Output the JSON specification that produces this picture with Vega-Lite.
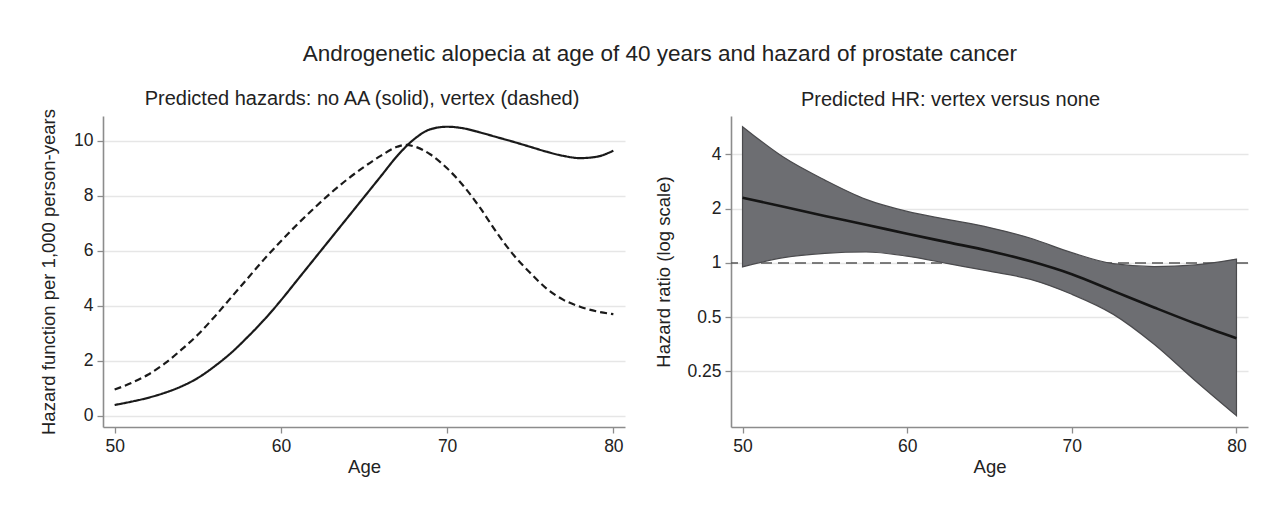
{
  "$schema": "https://vega.github.io/schema/vega-lite/v6.json",
  "background": "white",
  "padding": {"left": 39, "top": 43, "right": 20, "bottom": 10},
  "spacing": 29,
  "title": {
    "text": "Androgenetic alopecia at age of 40 years and hazard of prostate cancer",
    "fontSize": 22.5,
    "font": "Liberation Sans",
    "fontWeight": "normal",
    "color": "#222222",
    "anchor": "middle",
    "baseline": "top",
    "offset": 23,
    "dx": 16
  },
  "config": {
    "view": {"stroke": null},
    "font": "Liberation Sans",
    "axis": {
      "domainColor": "#8c8c8c",
      "domainWidth": 1.6,
      "tickColor": "#8c8c8c",
      "tickWidth": 1.3,
      "tickSize": 6,
      "labelFont": "Liberation Sans",
      "labelFontSize": 17.5,
      "labelColor": "#222222",
      "labelPadding": 4,
      "titleFont": "Liberation Sans",
      "titleFontSize": 18.5,
      "titleFontWeight": "normal",
      "titleColor": "#222222",
      "gridColor": "#e6e6e6",
      "gridWidth": 1.3
    },
    "title": {
      "font": "Liberation Sans",
      "fontSize": 20,
      "fontWeight": "normal",
      "color": "#222222"
    }
  },
  "hconcat": [
    {
      "width": 522,
      "height": 311,
      "title": {"text": "Predicted hazards: no AA (solid), vertex (dashed)", "offset": 0, "dx": -2},
      "data": {
        "values": [
          {"age": 50, "hazard": 0.40, "group": "No AA"},
          {"age": 51, "hazard": 0.52, "group": "No AA"},
          {"age": 52, "hazard": 0.66, "group": "No AA"},
          {"age": 53, "hazard": 0.84, "group": "No AA"},
          {"age": 54, "hazard": 1.07, "group": "No AA"},
          {"age": 55, "hazard": 1.38, "group": "No AA"},
          {"age": 56, "hazard": 1.80, "group": "No AA"},
          {"age": 57, "hazard": 2.29, "group": "No AA"},
          {"age": 58, "hazard": 2.87, "group": "No AA"},
          {"age": 59, "hazard": 3.5, "group": "No AA"},
          {"age": 60, "hazard": 4.2, "group": "No AA"},
          {"age": 61, "hazard": 4.95, "group": "No AA"},
          {"age": 62, "hazard": 5.7, "group": "No AA"},
          {"age": 63, "hazard": 6.45, "group": "No AA"},
          {"age": 64, "hazard": 7.2, "group": "No AA"},
          {"age": 65, "hazard": 7.95, "group": "No AA"},
          {"age": 66, "hazard": 8.7, "group": "No AA"},
          {"age": 67, "hazard": 9.45, "group": "No AA"},
          {"age": 68, "hazard": 10.05, "group": "No AA"},
          {"age": 69, "hazard": 10.42, "group": "No AA"},
          {"age": 70, "hazard": 10.51, "group": "No AA"},
          {"age": 71, "hazard": 10.45, "group": "No AA"},
          {"age": 72, "hazard": 10.3, "group": "No AA"},
          {"age": 73, "hazard": 10.13, "group": "No AA"},
          {"age": 74, "hazard": 9.96, "group": "No AA"},
          {"age": 75, "hazard": 9.78, "group": "No AA"},
          {"age": 76, "hazard": 9.6, "group": "No AA"},
          {"age": 77, "hazard": 9.45, "group": "No AA"},
          {"age": 78, "hazard": 9.37, "group": "No AA"},
          {"age": 79, "hazard": 9.42, "group": "No AA"},
          {"age": 80, "hazard": 9.64, "group": "No AA"},
          {"age": 50, "hazard": 0.96, "group": "Vertex"},
          {"age": 51, "hazard": 1.2, "group": "Vertex"},
          {"age": 52, "hazard": 1.5, "group": "Vertex"},
          {"age": 53, "hazard": 1.9, "group": "Vertex"},
          {"age": 54, "hazard": 2.4, "group": "Vertex"},
          {"age": 55, "hazard": 2.95, "group": "Vertex"},
          {"age": 56, "hazard": 3.6, "group": "Vertex"},
          {"age": 57, "hazard": 4.3, "group": "Vertex"},
          {"age": 58, "hazard": 5.0, "group": "Vertex"},
          {"age": 59, "hazard": 5.7, "group": "Vertex"},
          {"age": 60, "hazard": 6.35, "group": "Vertex"},
          {"age": 61, "hazard": 6.97, "group": "Vertex"},
          {"age": 62, "hazard": 7.55, "group": "Vertex"},
          {"age": 63, "hazard": 8.1, "group": "Vertex"},
          {"age": 64, "hazard": 8.6, "group": "Vertex"},
          {"age": 65, "hazard": 9.05, "group": "Vertex"},
          {"age": 66, "hazard": 9.45, "group": "Vertex"},
          {"age": 67, "hazard": 9.78, "group": "Vertex"},
          {"age": 67.5, "hazard": 9.85, "group": "Vertex"},
          {"age": 68, "hazard": 9.8, "group": "Vertex"},
          {"age": 69, "hazard": 9.5, "group": "Vertex"},
          {"age": 70, "hazard": 9.0, "group": "Vertex"},
          {"age": 71, "hazard": 8.35, "group": "Vertex"},
          {"age": 72, "hazard": 7.55, "group": "Vertex"},
          {"age": 73, "hazard": 6.65, "group": "Vertex"},
          {"age": 74, "hazard": 5.85, "group": "Vertex"},
          {"age": 75, "hazard": 5.2, "group": "Vertex"},
          {"age": 76, "hazard": 4.62, "group": "Vertex"},
          {"age": 77, "hazard": 4.22, "group": "Vertex"},
          {"age": 78, "hazard": 3.97, "group": "Vertex"},
          {"age": 79, "hazard": 3.8, "group": "Vertex"},
          {"age": 80, "hazard": 3.7, "group": "Vertex"}
        ]
      },
      "mark": {"type": "line", "interpolate": "monotone", "color": "#1a1a1a", "strokeWidth": 2.2},
      "encoding": {
        "x": {
          "field": "age", "type": "quantitative",
          "scale": {"domain": [49.3, 80.7], "nice": false, "zero": false},
          "axis": {"values": [50, 60, 70, 80], "title": "Age", "grid": false, "titlePadding": 3}
        },
        "y": {
          "field": "hazard", "type": "quantitative",
          "scale": {"domain": [-0.4, 10.9], "nice": false, "zero": false},
          "axis": {"values": [0, 2, 4, 6, 8, 10], "title": "Hazard function per 1,000 person-years", "grid": true, "minExtent": 30, "maxExtent": 30, "titlePadding": 15}
        },
        "strokeDash": {
          "field": "group", "type": "nominal",
          "scale": {"domain": ["No AA", "Vertex"], "range": [[1, 0], [7, 4]]},
          "legend": null
        }
      }
    },
    {
      "width": 517,
      "height": 311,
      "title": {"text": "Predicted HR: vertex versus none", "offset": 6, "dx": -39},
      "data": {
        "values": [
          {"age": 50, "hr": 2.30, "lo": 0.95, "hi": 5.70},
          {"age": 52.5, "hr": 2.05, "lo": 1.07, "hi": 3.85},
          {"age": 55, "hr": 1.82, "lo": 1.13, "hi": 2.88},
          {"age": 57.5, "hr": 1.63, "lo": 1.15, "hi": 2.25},
          {"age": 60, "hr": 1.45, "lo": 1.09, "hi": 1.93},
          {"age": 62.5, "hr": 1.30, "lo": 0.99, "hi": 1.74},
          {"age": 65, "hr": 1.165, "lo": 0.90, "hi": 1.57},
          {"age": 67.5, "hr": 1.02, "lo": 0.81, "hi": 1.37},
          {"age": 70, "hr": 0.865, "lo": 0.67, "hi": 1.14},
          {"age": 72.5, "hr": 0.70, "lo": 0.52, "hi": 0.99},
          {"age": 75, "hr": 0.566, "lo": 0.354, "hi": 0.955},
          {"age": 77.5, "hr": 0.461, "lo": 0.222, "hi": 0.975},
          {"age": 80, "hr": 0.382, "lo": 0.142, "hi": 1.05}
        ]
      },
      "encoding": {
        "x": {
          "field": "age", "type": "quantitative",
          "scale": {"domain": [49.3, 80.7], "nice": false, "zero": false},
          "axis": {"values": [50, 60, 70, 80], "title": "Age", "grid": false, "titlePadding": 3}
        }
      },
      "layer": [
        {
          "data": {"values": [{"ref": 1}]},
          "mark": {"type": "rule", "color": "#555555", "strokeWidth": 1.5, "strokeDash": [11, 6]},
          "encoding": {
            "x": null,
            "y": {"field": "ref", "type": "quantitative"}
          }
        },
        {
          "mark": {"type": "area", "interpolate": "monotone", "color": "#6d6e72", "opacity": 1, "stroke": "#4a4a4d", "strokeWidth": 1.2},
          "encoding": {
            "y": {
              "field": "lo", "type": "quantitative",
              "scale": {"type": "log", "domain": [0.123, 6.53], "nice": false},
              "axis": {"values": [0.25, 0.5, 1, 2, 4], "format": "~g", "title": "Hazard ratio (log scale)", "grid": true, "minExtent": 46, "maxExtent": 46, "titlePadding": 12}
            },
            "y2": {"field": "hi"}
          }
        },
        {
          "mark": {"type": "line", "interpolate": "monotone", "color": "#151515", "strokeWidth": 2.6},
          "encoding": {
            "y": {"field": "hr", "type": "quantitative"}
          }
        }
      ]
    }
  ]
}
